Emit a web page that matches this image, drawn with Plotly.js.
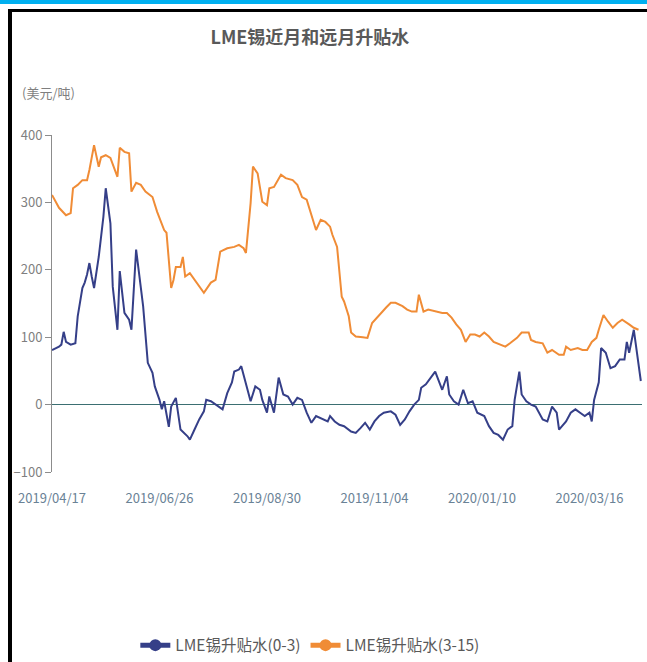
<!DOCTYPE html>
<html>
<head>
<meta charset="utf-8">
<script src="https://cdn.plot.ly/plotly-3.0.1.min.js"></script>
<style>
html,body{margin:0;padding:0;background:#fff;}
#wrap{position:relative;width:647px;height:662px;overflow:hidden;}
#chart{position:absolute;left:0;top:0;width:647px;height:662px;}
.b{position:absolute;}
</style>
</head>
<body>
<div id="wrap">
<div id="chart"></div>
<div class="b" style="left:0;top:0;width:647px;height:4px;background:#00b0f0;"></div>
<div class="b" style="left:8px;top:9px;width:639px;height:3px;background:#000;"></div>
<div class="b" style="left:8px;top:9px;width:4px;height:653px;background:#000;"></div>
</div>
<script>
// x positions are trading-day indices counted from 2019/04/17
const tickIdx = [0, 46, 92, 138, 184, 230];
const tickLabels = ['2019/04/17', '2019/06/26', '2019/08/30', '2019/11/04', '2020/01/10', '2020/03/16'];

const farIdx = [0,3,6,8,9,11,13,15,16,18,20,21,23,25,28,29,31,33,34,36,38,40,43,45,48,49,51,52,53,55,56,57,59,62,65,68,70,72,75,78,80,82,83,85,86,88,90,92,93,95,98,100,103,105,107,109,111,113,115,117,119,120,122,123,124,125,127,128,130,133,135,137,139,141,143,145,147,150,152,154,156,157,159,161,164,167,169,171,173,175,177,179,181,183,185,187,189,192,194,196,199,201,204,205,207,210,212,214,215,217,219,220,222,225,227,229,231,233,234,236,238,240,242,244,247,249,251];
const farVals = [311,292,281,284,321,326,333,333,348,385,353,367,370,366,338,381,375,373,316,329,326,316,308,286,259,255,173,185,204,204,219,190,195,181,166,181,185,227,232,234,237,232,225,299,353,343,301,296,321,323,341,336,333,326,308,304,281,259,274,271,264,252,234,190,160,153,131,107,101,100,99,121,129,136,144,151,151,146,141,138,138,163,138,141,138,136,136,129,119,111,93,104,104,101,107,101,93,89,86,91,99,107,107,96,93,91,77,81,79,74,74,86,81,84,81,81,93,99,111,133,123,114,121,126,119,114,111];

const nearIdx = [0,3,4,5,6,8,10,11,13,14,15,16,17,18,20,22,23,25,26,28,29,31,33,34,36,38,39,41,43,44,46,47,48,50,51,53,54,55,58,59,61,63,65,66,68,70,73,75,77,78,80,81,83,85,87,89,90,92,93,95,97,99,101,103,105,107,109,111,113,115,118,119,121,123,125,128,130,132,134,136,138,140,142,145,147,149,151,153,155,157,158,160,162,164,167,169,170,172,174,176,178,180,182,185,187,189,191,193,195,197,198,200,201,203,205,207,210,212,214,216,217,220,222,224,226,228,230,231,232,234,235,237,239,241,243,245,246,247,249,252];
const nearVals = [81,86,89,108,93,89,91,131,173,181,193,210,190,173,219,279,321,269,175,111,198,136,126,111,230,178,146,62,47,27,7,-7,5,-33,-3,10,-12,-37,-47,-52,-37,-22,-10,7,5,0,-7,17,33,49,52,57,33,5,27,22,7,-12,12,-12,40,15,12,0,10,7,-12,-27,-17,-20,-25,-17,-25,-30,-32,-40,-42,-35,-27,-37,-25,-17,-12,-10,-15,-30,-22,-10,0,7,25,30,40,49,22,42,15,5,0,22,2,5,-12,-17,-32,-42,-45,-52,-37,-32,7,49,15,5,0,-3,-22,-25,-3,-12,-37,-25,-12,-7,-12,-17,-12,-25,7,33,84,77,54,57,67,67,93,77,111,35];

const seriesNames = ['LME锡升贴水(0-3)', 'LME锡升贴水(3-15)'];
const FONT = '"Noto Sans CJK SC", "Noto Sans", sans-serif';

const traces = [
  {x: nearIdx, y: nearVals, name: seriesNames[0], type: 'scatter', mode: 'lines+markers',
   line: {color: '#353f88', width: 2}, marker: {color: '#353f88', size: 0.01}},
  {x: farIdx, y: farVals, name: seriesNames[1], type: 'scatter', mode: 'lines+markers',
   line: {color: '#f08c36', width: 2}, marker: {color: '#f08c36', size: 0.01}}
];

const layout = {
  width: 647, height: 662,
  margin: {l: 52, r: 5, t: 135, b: 190, autoexpand: false},
  paper_bgcolor: '#ffffff', plot_bgcolor: '#ffffff',
  font: {family: FONT, color: '#7f7f7f', size: 13},
  title: {text: 'LME锡近月和远月升贴水', font: {family: FONT, size: 18, color: '#595959', weight: 'bold'},
          x: 0.479, xanchor: 'center', y: 0.943, yanchor: 'middle'},
  xaxis: {range: [0, 252.5], showgrid: false, zeroline: false, showline: false, ticks: '', automargin: false,
          tickmode: 'array', tickvals: tickIdx, ticktext: tickLabels,
          tickfont: {family: FONT, size: 13, color: '#6a8296'}, ticklabelstandoff: 17, fixedrange: true},
  yaxis: {range: [-100, 400], showgrid: false, showline: true, linecolor: '#8c8c8c', linewidth: 1, automargin: false,
          ticks: 'outside', ticklen: 6, tickcolor: '#8c8c8c', tickmode: 'array',
          tickvals: [-100, 0, 100, 200, 300, 400],
          zeroline: true, zerolinecolor: '#3b6f72', zerolinewidth: 1.5,
          tickfont: {family: FONT, size: 13, color: '#7f7f7f'}, fixedrange: true},
  showlegend: true,
  legend: {orientation: 'h', x: 0.437, xanchor: 'center', y: -0.515, yanchor: 'middle',
           font: {family: FONT, size: 15.5, color: '#595959'}, itemsizing: 'constant'},
  annotations: [
    {text: '(美元/吨)', xref: 'paper', yref: 'paper', x: -0.054, y: 1.125, xanchor: 'left', yanchor: 'middle',
     showarrow: false, font: {family: FONT, size: 13, color: '#7f7f7f'}}
  ]
};

Plotly.newPlot('chart', traces, layout, {staticPlot: true, displayModeBar: false});
</script>
</body>
</html>
